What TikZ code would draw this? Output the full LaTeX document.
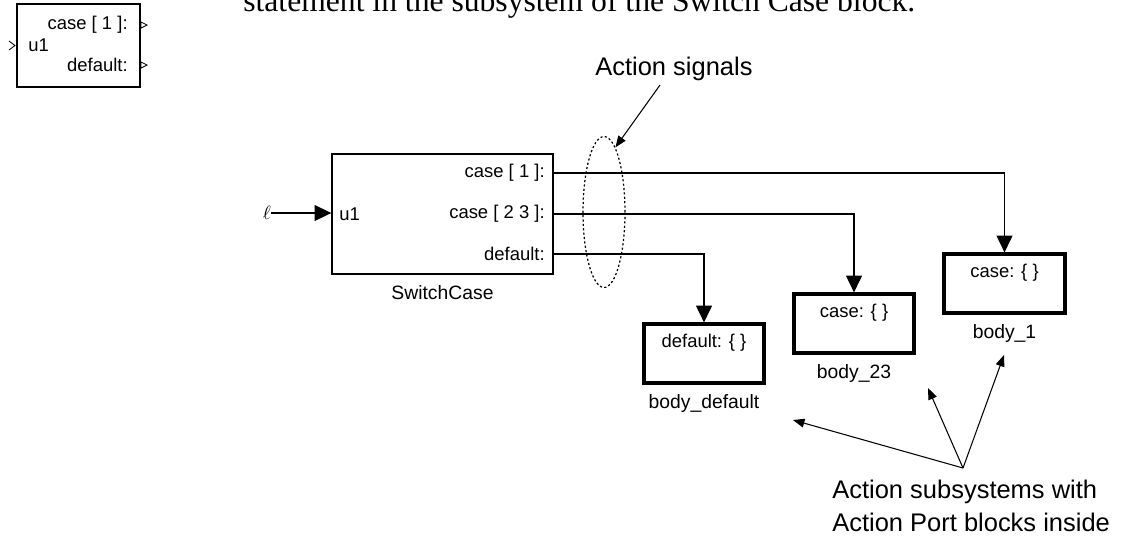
\documentclass[tikz,border=0pt]{standalone}
\usepackage{fontspec}
\setmainfont{Liberation Serif}
\newfontfamily\simFont{Liberation Sans}
\usetikzlibrary{arrows.meta, positioning, shapes.geometric}

\tikzset{
    blockBox/.style={draw, line width=0.8pt, inner sep=0pt},
    bodyBox/.style={draw, line width=1.8pt, inner sep=0pt,
        minimum width=2.4cm, minimum height=1.18cm},
    portText/.style={font=\simFont\fontsize{10.5}{12}\selectfont, inner sep=0pt},
    nameText/.style={font=\simFont\fontsize{11}{13}\selectfont, inner sep=0pt},
    noteText/.style={font=\simFont\fontsize{14.5}{18.7}\selectfont, inner sep=0pt, align=left},
    sigLine/.style={line width=0.8pt, -{Triangle[length=9.5pt, width=9pt]}},
    noteArrow/.style={line width=0.6pt, -{Triangle[length=6.5pt, width=5pt]}},
}

\begin{document}
\begin{tikzpicture}[x=0.02cm, y=-0.02cm]

    \useasboundingbox (0,0) rectangle (1128,539);

    % LEAD-IN TEXT (cut at the top)
    \node[anchor=base west, inner sep=0pt, font=\fontsize{18}{20}\selectfont] (intro) at (243,11)
        {statement in the subsystem of the Switch Case block.};

    % BLOCK ICON
    \node[blockBox, minimum width=2.46cm, minimum height=1.66cm] (icon) at (78.5,45.5) {};
    \node[portText, anchor=east] (iconCase) at (128,25) {case [ 1 ]:};
    \node[portText, anchor=west] (iconIn) at (28,45) {u1};
    \node[portText, anchor=east] (iconDef) at (128,65) {default:};
    \draw[line width=0.5pt] (9,41) -- (15,45.5) -- (9,50);
    \draw[line width=0.5pt] (141,22) -- (147,25) -- (141,28) -- cycle;
    \draw[line width=0.5pt] (141,62) -- (147,65) -- (141,68) -- cycle;

    % SWITCH CASE BLOCK
    \node[blockBox, minimum width=4.42cm, minimum height=2.4cm] (sc) at (442.5,214) {};
    \node[nameText, below=0.2cm of sc] (scName) {SwitchCase};
    \node[portText, anchor=east] (scCase1) at (545,173) {case [ 1 ]:};
    \node[portText, anchor=east] (scCase23) at (545,214) {case [ 2 3 ]:};
    \node[portText, anchor=east] (scDef) at (545,254) {default:};
    \node[portText, anchor=west] (scIn) at (339,214) {u1};
    \node[portText] (src) at (267,213) {$\ell$};
    \draw[sigLine] (src.east) -- (sc.west |- src);

    % ACTION SUBSYSTEMS
    \node[bodyBox, minimum width=2.42cm] (body1) at (1004.5,283.5) {};
    \node[bodyBox] (body23) at (854,323.5) {};
    \node[bodyBox] (bodyDef) at (704,353.5) {};
    \node[portText, below=0.22cm of body1.north] (body1Text) {case: \{ \}};
    \node[portText, below=0.22cm of body23.north] (body23Text) {case: \{ \}};
    \node[portText, below=0.22cm of bodyDef.north] (bodyDefText) {default: \{ \}};
    \node[nameText, below=0.2cm of body1] (body1Name) {body\_1};
    \node[nameText, below=0.2cm of body23] (body23Name) {body\_23};
    \node[nameText, below=0.2cm of bodyDef] (bodyDefName) {body\_default};

    % ACTION SIGNALS
    \draw[sigLine] (sc.east |- scCase1) -| (body1.north);
    \draw[sigLine] (sc.east |- scCase23) -| (body23.north);
    \draw[sigLine] (sc.east |- scDef) -| (bodyDef.north);

    \node[draw, ellipse, dash pattern=on 1.2pt off 1.3pt, line width=0.7pt, inner sep=0pt,
        minimum width=0.84cm, minimum height=3.02cm] (bundle) at (604,212) {};
    \node[noteText, anchor=base west] (sigNote) at (595,75) {Action signals};
    \coordinate (sigFoot) at (660,85);
    \draw[noteArrow] (sigFoot) -- (bundle.80);

    % CALLOUT
    \node[noteText, anchor=north west] (actNote) at (832,480)
        {Action subsystems with\\Action Port blocks inside};
    \coordinate (actFoot) at (963,468);
    \coordinate (toDef) at (793,420);
    \coordinate (to23) at (928,388);
    \coordinate (to1) at (1004,355);
    \draw[noteArrow] (actFoot) -- (toDef);
    \draw[noteArrow] (actFoot) -- (to23);
    \draw[noteArrow] (actFoot) -- (to1);

\end{tikzpicture}
\end{document}
